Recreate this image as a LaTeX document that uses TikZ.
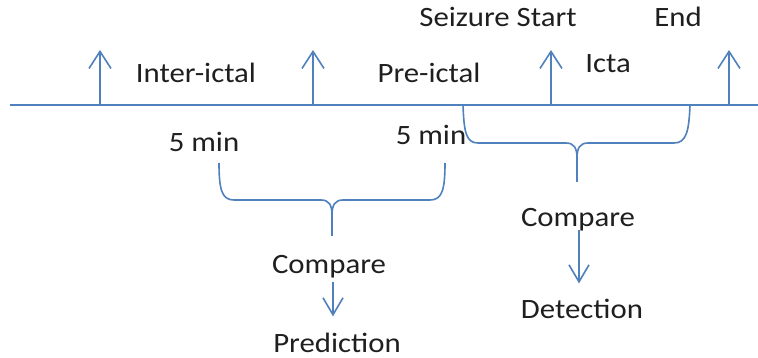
\documentclass[tikz,border=0pt]{standalone}
\usepackage{fontspec}
\newfontfamily\lblfont[FakeStretch=1.1]{Carlito}
\usetikzlibrary{arrows.meta}
\definecolor{lineblue}{HTML}{4F81BD}
\definecolor{ink}{HTML}{1F1F1F}

\begin{document}
\begin{tikzpicture}[x=1pt,y=-1pt,
  axis/.style={draw=lineblue, line width=1.6pt},
  marker/.style={draw=lineblue, line width=1.6pt,
    -{Straight Barb[length=17pt,width=22pt]}},
  flow/.style={draw=lineblue, line width=1.6pt,
    -{Straight Barb[length=17pt,width=20pt]}},
  bracepath/.style={draw=lineblue, line width=1.6pt, line join=round},
  lbl/.style={text=ink, inner sep=0pt, anchor=base,
    font=\lblfont\fontsize{28}{32}\selectfont}]

% canvas
\useasboundingbox (0,0) rectangle (758,358);
\fill[white] (0,0) rectangle (758,358);

% time axis
\coordinate (t0) at (10,105);
\coordinate (t1) at (758,105);
\draw[axis] (t0) -- (t1);

% event markers on the axis
\foreach \x/\n in {100/m1, 313/m2, 551/m3, 729/m4}{
  \coordinate (\n base) at (\x,105);
  \coordinate (\n tip) at (\x,50);
  \draw[marker] (\n base) -- (\n tip);
}

% phase and event labels
\node[lbl] (inter) at (196,83) {Inter-ictal};
\node[lbl] (pre)   at (429,83) {Pre-ictal};
\node[lbl] (icta)  at (608,73) {Icta};
\node[lbl] (start) at (498,27) {Seizure Start};
\node[lbl] (end)   at (678,27) {End};

% window lengths
\node[lbl] (w1) at (204,152) {5 min};
\node[lbl] (w2) at (431,145) {5 min};

% brace grouping the two 5 min windows
\draw[bracepath] (219,163) .. controls (219,190) and (222,200) .. (234,200)
  -- (321,200) .. controls (329,200) and (332,205) .. (332,215) -- (332,236);
\draw[bracepath] (445,163) .. controls (445,190) and (442,200) .. (430,200)
  -- (343,200) .. controls (335,200) and (332,205) .. (332,215);

% brace grouping pre-ictal window and ictal period
\draw[bracepath] (463,105) .. controls (464,132) and (466,143) .. (478,143)
  -- (566,143) .. controls (574,143) and (577,148) .. (577,158) -- (577,182);
\draw[bracepath] (690,105) .. controls (689,132) and (686,143) .. (674,143)
  -- (588,143) .. controls (580,143) and (577,148) .. (577,158);

% outcomes
\node[lbl] (cmp1) at (329,273) {Compare};
\node[lbl] (pred) at (337,352) {Prediction};
\node[lbl] (cmp2) at (578,227) {Compare};
\node[lbl] (det)  at (582,318) {Detection};

\coordinate (ax1) at (333,0);
\coordinate (ax2) at (579,0);
\draw[flow, shorten <=4pt, shorten >=16pt] (cmp1.south -| ax1) -- (pred.north -| ax1);
\draw[flow, shorten <=-2pt, shorten >=15pt] (cmp2.south -| ax2) -- (det.north -| ax2);
\end{tikzpicture}
\end{document}
